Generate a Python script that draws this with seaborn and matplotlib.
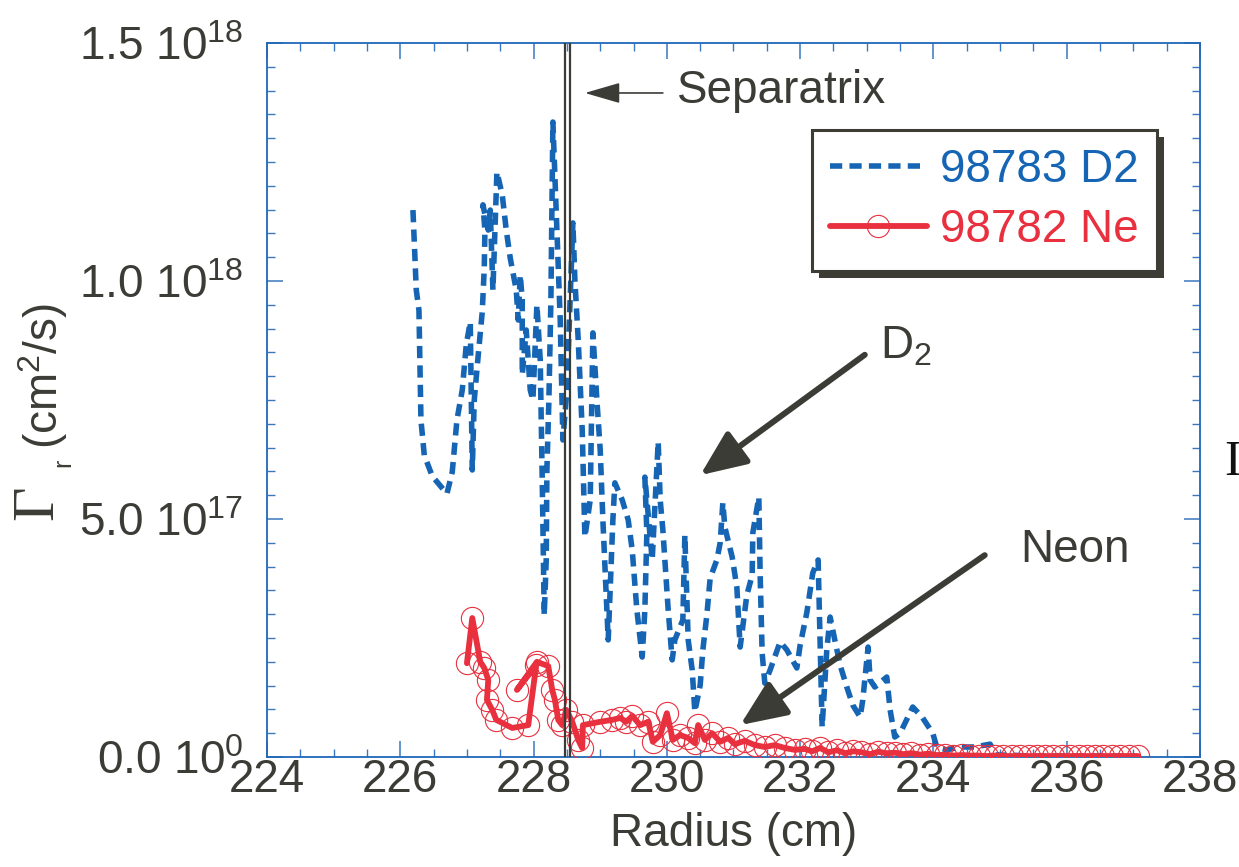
import numpy as np
import pandas as pd
import matplotlib
matplotlib.use("Agg")
import matplotlib.pyplot as plt
import seaborn as sns
from matplotlib.patches import Rectangle, ArrowStyle
from matplotlib.transforms import IdentityTransform
from matplotlib.ticker import MultipleLocator, FixedLocator, FixedFormatter

# ---------------- data ----------------
d2_radius = [226.19, 226.24, 226.28, 226.31, 226.36, 226.48, 226.70, 226.78, 226.85, 226.93,
             226.99, 227.05, 227.08, 227.11, 227.17, 227.23, 227.26, 227.27, 227.24, 227.32,
             227.35, 227.39, 227.45, 227.53, 227.59, 227.65, 227.74, 227.77, 227.80, 227.83,
             227.83, 227.89, 227.95, 227.99, 228.05, 228.10, 228.13, 228.16, 228.19, 228.20,
             228.23, 228.26, 228.29, 228.35, 228.40, 228.44, 228.50, 228.59, 228.62, 228.67,
             228.73, 228.77, 228.85, 228.89, 228.95, 229.00, 229.04, 229.12, 229.19, 229.22,
             229.33, 229.42, 229.48, 229.55, 229.63, 229.67, 229.70, 229.67, 229.78, 229.87,
             229.90, 229.94, 229.97, 230.02, 230.08, 230.12, 230.24, 230.27, 230.32, 230.38,
             230.42, 230.50, 230.54, 230.60, 230.65, 230.75, 230.80, 230.84, 230.87, 230.98,
             231.05, 231.10, 231.20, 231.28, 231.29, 231.38, 231.40, 231.43, 231.47, 231.55,
             231.70, 231.80, 231.95, 232.00, 232.10, 232.19, 232.27, 232.33, 232.40, 232.45,
             232.52, 232.60, 232.70, 232.79, 232.90, 232.94, 233.02, 233.05, 233.12, 233.30,
             233.35, 233.42, 233.50, 233.69, 233.83, 233.99, 234.05, 234.20, 234.40, 234.62,
             234.85, 234.95, 235.15, 235.45, 235.90, 236.35, 236.65, 237.03]
d2_flux_e17 = [11.49, 9.81, 9.39, 7.08, 6.34, 5.90, 5.53, 5.99, 7.08, 7.71,
               8.66, 9.14, 6.03, 7.50, 8.45, 9.35, 10.27, 11.07, 11.60, 11.07,
               11.49, 9.81, 12.29, 11.81, 11.07, 10.48, 9.81, 9.18, 10.13, 9.60,
               8.03, 8.97, 7.71, 7.50, 9.50, 8.34, 5.82, 2.98, 4.14, 6.03,
               7.50, 9.60, 13.34, 11.07, 9.18, 6.66, 7.71, 11.22, 10.02, 8.76,
               6.87, 4.62, 5.40, 8.91, 7.50, 6.45, 4.98, 2.46, 4.98, 5.76,
               5.40, 4.98, 4.35, 3.09, 2.10, 3.09, 4.71, 5.88, 4.14, 6.62,
               5.40, 4.77, 4.14, 3.09, 2.04, 2.46, 2.88, 4.66, 2.46, 1.83,
               0.95, 1.51, 2.25, 2.98, 3.76, 4.14, 4.50, 5.34, 4.83, 4.20,
               3.57, 2.31, 3.40, 3.82, 4.71, 5.46, 3.82, 2.18, 1.55, 1.83,
               2.42, 2.25, 1.87, 2.35, 3.03, 3.87, 4.14, 0.63, 2.25, 2.94,
               2.46, 1.93, 1.47, 1.09, 0.84, 1.20, 2.31, 1.62, 1.47, 1.68,
               0.99, 0.42, 0.50, 1.05, 0.84, 0.50, 0.21, 0.15, 0.21, 0.21,
               0.27, 0.04, 0.04, 0.02, 0.02, 0.02, 0.02, 0.02]

ne_radius = [227.00, 227.08, 227.20, 227.26, 227.32, 227.30, 227.38, 227.44, 227.68, 227.92,
             228.04, 227.75, 228.05, 228.22, 228.28, 228.32, 228.37, 228.43, 228.49, 228.58,
             228.67, 228.73, 228.74, 229.00, 229.18, 229.30, 229.39, 229.48, 229.60, 229.72,
             229.79, 229.90, 230.00, 230.09, 230.20, 230.32, 230.42, 230.47, 230.57, 230.68,
             230.80, 230.92, 231.02, 231.17, 231.32, 231.47, 231.62, 231.77, 231.92, 232.07,
             232.18, 232.30, 232.42, 232.55, 232.68, 232.80, 232.92, 233.05, 233.17, 233.30,
             233.42, 233.55, 233.67, 233.80, 233.92, 234.05, 234.18, 234.30, 234.43, 234.55,
             234.68, 234.80, 234.93, 235.05, 235.18, 235.30, 235.43, 235.55, 235.68, 235.80,
             235.93, 236.05, 236.18, 236.30, 236.43, 236.55, 236.68, 236.80, 236.93, 237.07]
ne_flux_e17 = [1.97, 2.92, 2.00, 1.87, 1.62, 1.20, 0.99, 0.78, 0.61, 0.67,
               1.93, 1.41, 2.00, 1.91, 1.41, 1.20, 0.78, 0.67, 0.99, 0.74,
               0.36, 0.19, 0.67, 0.74, 0.78, 0.82, 0.74, 0.86, 0.67, 0.74,
               0.32, 0.46, 0.92, 0.36, 0.46, 0.40, 0.29, 0.67, 0.36, 0.50,
               0.32, 0.40, 0.27, 0.34, 0.25, 0.21, 0.25, 0.19, 0.15, 0.17,
               0.12, 0.19, 0.10, 0.14, 0.08, 0.12, 0.10, 0.06, 0.11, 0.08,
               0.09, 0.06, 0.08, 0.05, 0.07, 0.04, 0.05, 0.03, 0.04, 0.03,
               0.03, 0.02, 0.03, 0.02, 0.02, 0.02, 0.02, 0.02, 0.02, 0.02,
               0.02, 0.02, 0.02, 0.02, 0.02, 0.02, 0.02, 0.02, 0.02, 0.02]

series_labels = ["98783 D2", "98782 Ne"]
separatrix_r = [228.47, 228.54]
x_ticks = [224, 226, 228, 230, 232, 234, 236, 238]
x_tick_labels = ["224", "226", "228", "230", "232", "234", "236", "238"]
y_ticks = [0.0, 5.0e17, 1.0e18, 1.5e18]
y_tick_labels = ["0.0 10$^{0}$", "5.0 10$^{17}$", "1.0 10$^{18}$", "1.5 10$^{18}$"]

BLUE = "#1565b4"
RED = "#e8303f"
DARK = "#3c3c37"
SPINE = "#1f68b6"

# ---------------- style ----------------
sns.set_theme(style="white")
plt.rcParams['font.family'] = ['Liberation Sans', 'DejaVu Sans']
plt.rcParams['mathtext.fontset'] = 'custom'
plt.rcParams['mathtext.rm'] = 'Liberation Serif'
plt.rcParams['mathtext.sf'] = 'Liberation Sans'
plt.rcParams['mathtext.it'] = 'Liberation Serif:italic'
plt.rcParams['mathtext.default'] = 'regular'

fig = plt.figure(figsize=(12.39, 8.67), dpi=100)
ax = fig.add_axes([267/1239, 1 - 757/867, (1200-267)/1239, (757-43)/867])

df_d2 = pd.DataFrame({"r": d2_radius, "flux": np.array(d2_flux_e17) * 1e17})
df_ne = pd.DataFrame({"r": ne_radius, "flux": np.array(ne_flux_e17) * 1e17})

sns.lineplot(data=df_d2, x="r", y="flux", sort=False, estimator=None, ax=ax,
             color=BLUE, lw=4.0, linestyle=(0, (2.2, 1.3)), label=series_labels[0], zorder=2)
sns.lineplot(data=df_ne, x="r", y="flux", sort=False, estimator=None, ax=ax,
             color=RED, lw=4.2, marker="o", markersize=16, markerfacecolor="none",
             markeredgecolor=RED, markeredgewidth=0.8, label=series_labels[1], zorder=3)

for xs in separatrix_r:
    ax.axvline(xs, color=DARK, lw=1.6, zorder=4)

ax.set_xlim(224, 238)
ax.set_ylim(0, 1.5e18)
ax.xaxis.set_major_locator(FixedLocator(x_ticks))
ax.xaxis.set_major_formatter(FixedFormatter(x_tick_labels))
ax.xaxis.set_minor_locator(MultipleLocator(0.5))
ax.yaxis.set_major_locator(FixedLocator(y_ticks))
ax.yaxis.set_major_formatter(FixedFormatter(y_tick_labels))
ax.yaxis.set_minor_locator(MultipleLocator(5e16))

ax.tick_params(which='both', direction='in', bottom=True, top=True, left=True, right=True,
               color="#3b78c0")
ax.tick_params(which='major', length=11.5, width=1.1, labelsize=33, labelcolor=DARK)
ax.tick_params(which='minor', length=5.8, width=1.0)
ax.tick_params(axis='x', pad=1)
ax.tick_params(axis='y', pad=17)
for s in ax.spines.values():
    s.set_visible(True)
    s.set_color(SPINE)
    s.set_linewidth(1.3)

ax.set_xlabel("Radius (cm)", fontsize=33, color=DARK, labelpad=7)
ax.set_ylabel("")

# y label pieces
fig.text(38/1239, 1 - 505/867, r"$\mathrm{\Gamma}$", fontsize=43, color=DARK, rotation=90,
         ha='center', va='center')
fig.text(63/1239, 1 - 463/867, "r", fontsize=18, color=DARK, rotation=90,
         ha='center', va='center')
fig.text(43/1239, 1 - 376/867, "(cm$^{2}$/s)", fontsize=33, color=DARK, rotation=90,
         ha='center', va='center')
fig.text(1224/1239, 1 - 475/867, "I", fontsize=36, color="#111111",
         family="Liberation Serif", ha='left', va='baseline')

# annotations
ax.annotate("", xy=(228.77, 13.95e17), xytext=(229.94, 13.95e17),
            arrowprops=dict(arrowstyle=ArrowStyle('-|>', head_length=1.1, head_width=0.32),
                            mutation_scale=20, color=DARK, lw=1.2, shrinkA=0, shrinkB=0),
            zorder=6)
ax.text(230.15, 13.74e17, "Separatrix", fontsize=33, color=DARK, ha='left', va='baseline')

ax.annotate("", xy=(230.50, 5.92e17), xytext=(232.97, 8.45e17),
            arrowprops=dict(arrowstyle=ArrowStyle('-|>', head_length=1.4, head_width=0.6),
                            mutation_scale=20, color=DARK, lw=4.3, shrinkA=0, shrinkB=0),
            zorder=6)
ax.text(233.2, 8.38e17, "D$_2$", fontsize=33, color=DARK, ha='left', va='baseline')

ax.annotate("", xy=(231.10, 0.67e17), xytext=(234.77, 4.24e17),
            arrowprops=dict(arrowstyle=ArrowStyle('-|>', head_length=1.4, head_width=0.6),
                            mutation_scale=20, color=DARK, lw=4.3, shrinkA=0, shrinkB=0),
            zorder=6)
ax.text(235.30, 4.10e17, "Neon", fontsize=33, color=DARK, ha='left', va='baseline')

# legend
leg = ax.legend(loc='upper left', bbox_to_anchor=(812/1239, 1 - 130/867),
                bbox_transform=fig.transFigure, fontsize=33, frameon=True, fancybox=False,
                framealpha=1, edgecolor="#3d3d35", borderpad=0.4, labelspacing=0.35,
                handlelength=2.1, handletextpad=0.3, borderaxespad=0,
                labelcolor='linecolor')
leg.get_frame().set_linewidth(2.2)
leg.set_zorder(10)

fig.canvas.draw()
bb = leg.get_window_extent()
shadow = Rectangle((bb.x0 + 7, bb.y0 - 7), bb.width, bb.height, transform=IdentityTransform(),
                   facecolor="#3d3d35", edgecolor='none', zorder=9.9, clip_on=False)
ax.add_artist(shadow)

fig.savefig("out.png", dpi=100)
